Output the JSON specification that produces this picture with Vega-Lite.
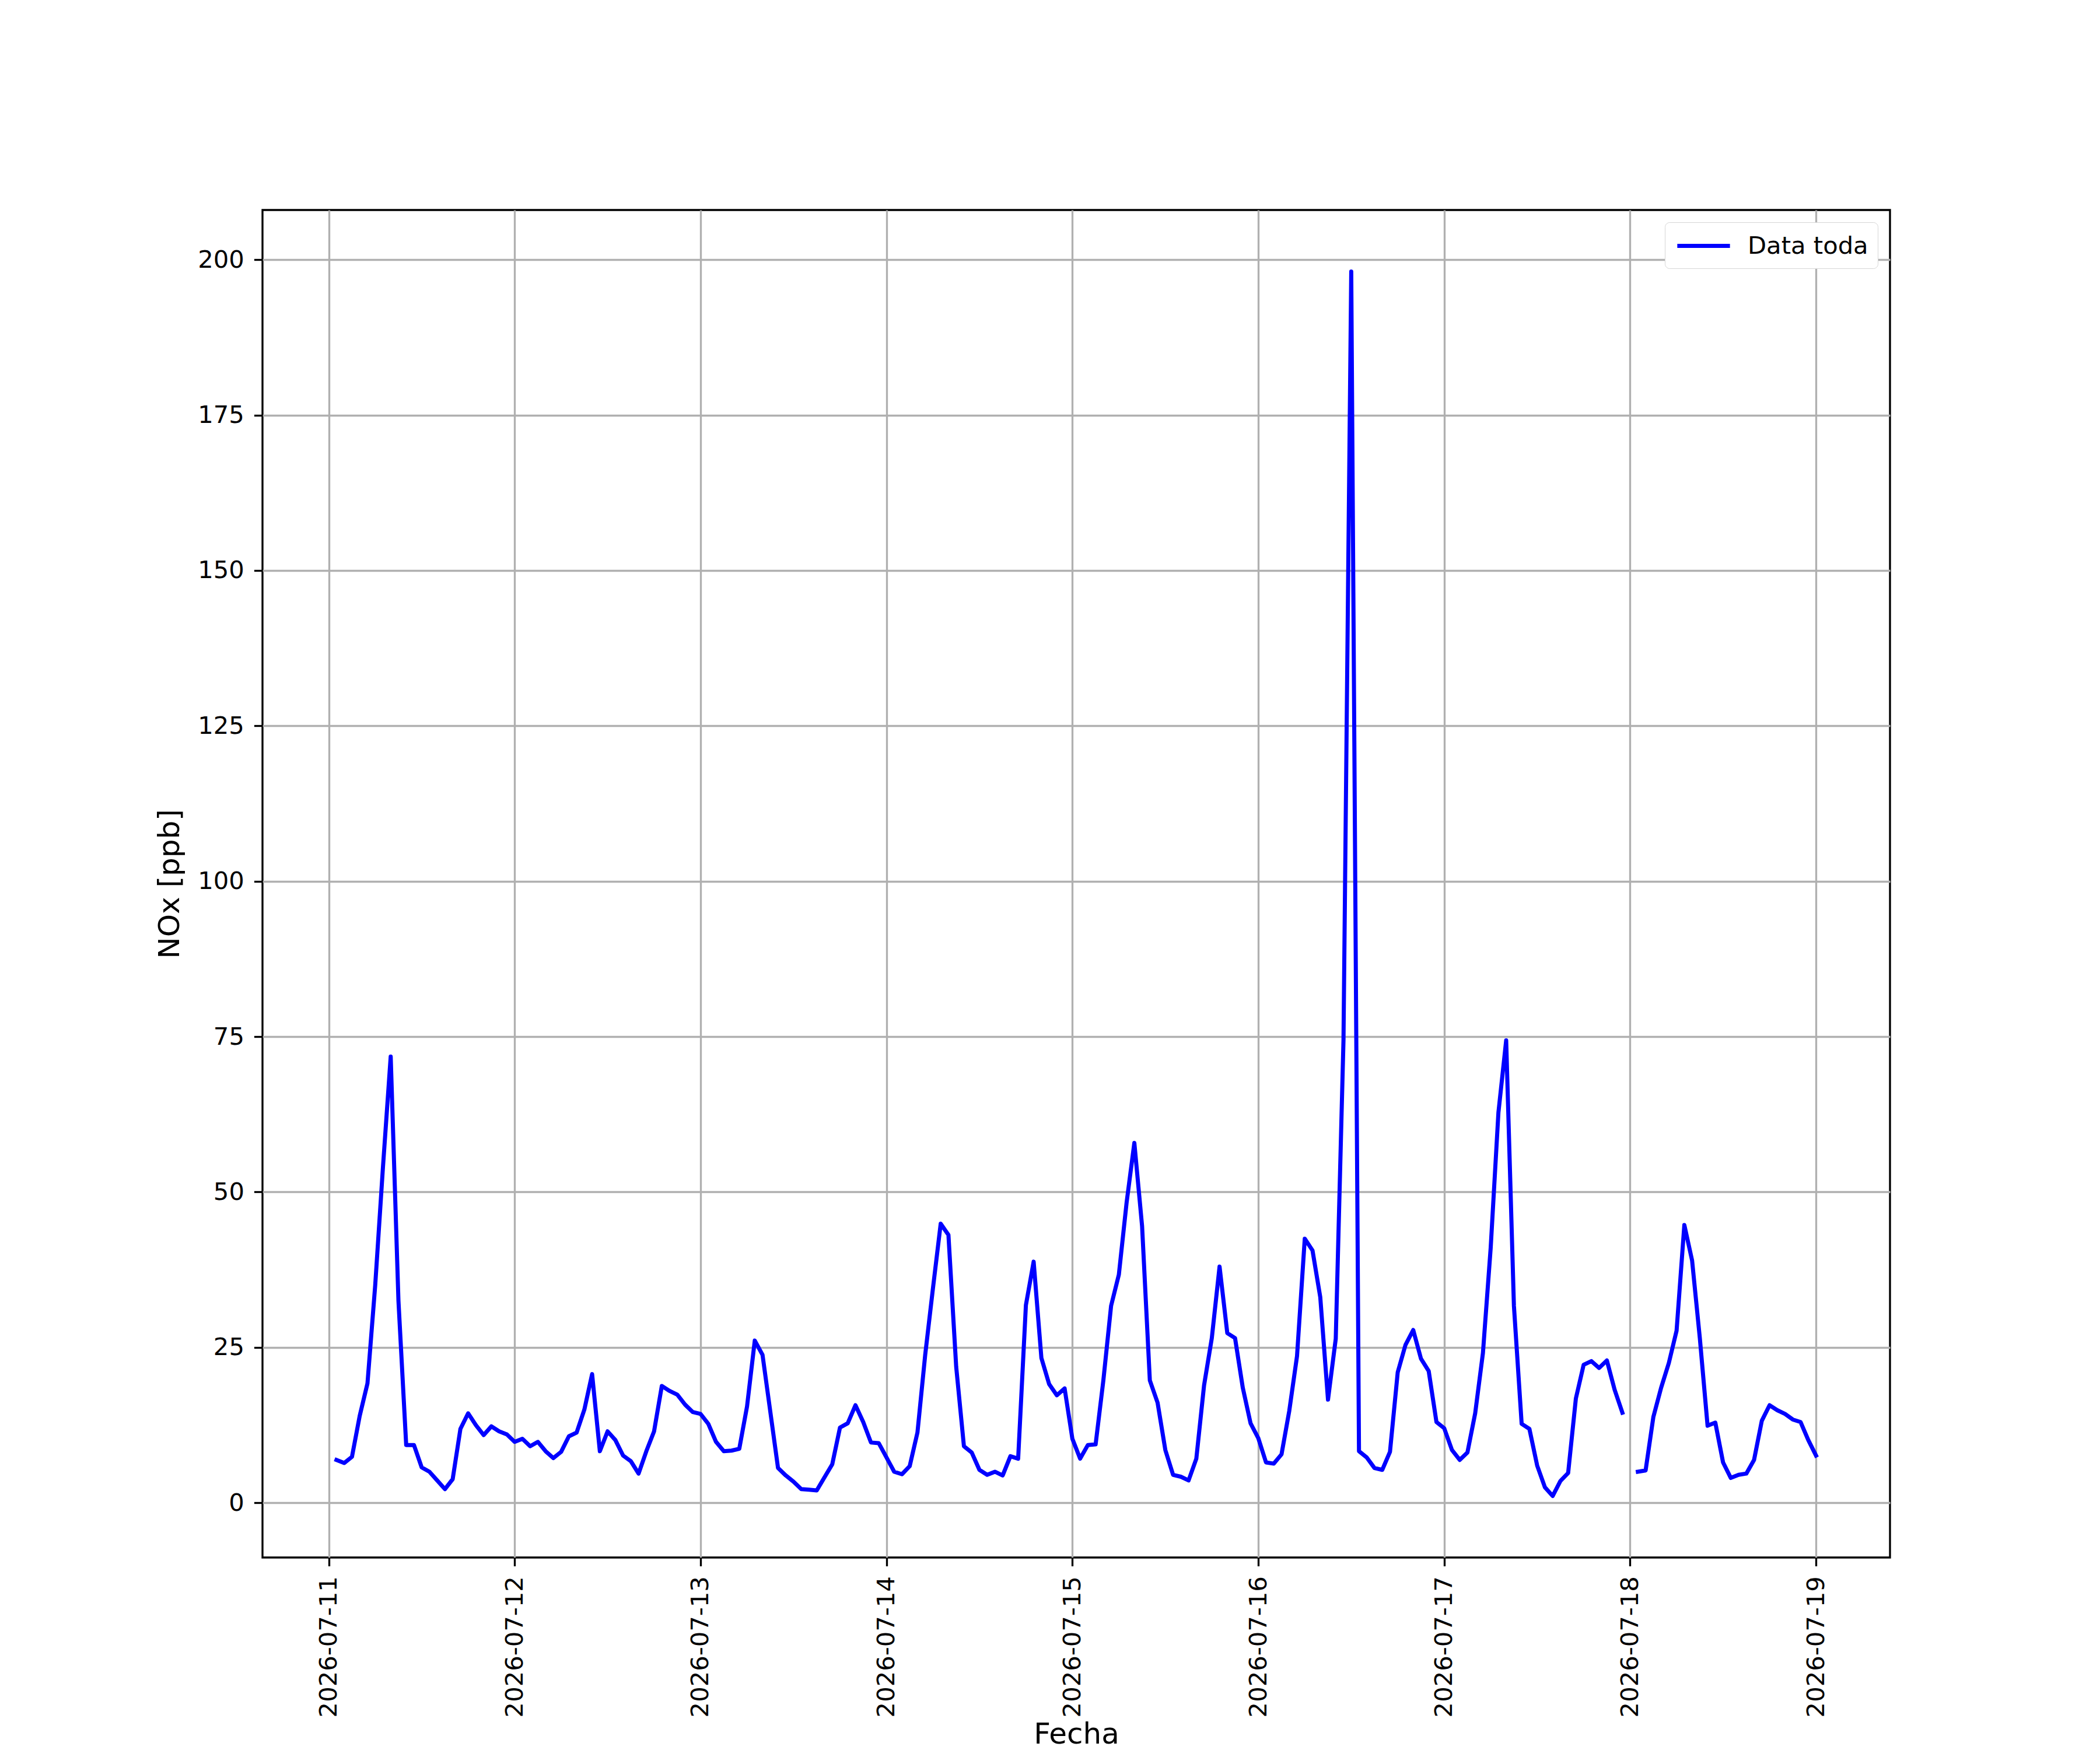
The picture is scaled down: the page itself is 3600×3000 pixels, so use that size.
{
  "$schema": "https://vega.github.io/schema/vega-lite/v6.json",
  "width": 2790,
  "height": 2310,
  "autosize": {"type": "none"},
  "padding": {"left": 450, "top": 360, "right": 360, "bottom": 330},
  "background": "white",
  "config": {
    "font": "DejaVu Sans",
    "view": {"stroke": "black", "strokeWidth": 3.33},
    "axis": {
      "domain": false,
      "grid": true,
      "gridColor": "#b0b0b0",
      "gridWidth": 3.33,
      "ticks": true,
      "tickColor": "black",
      "tickWidth": 3.33,
      "tickSize": 14.6,
      "labelFont": "DejaVu Sans",
      "labelFontSize": 41.7,
      "labelColor": "black",
      "labelLimit": 0,
      "labelPadding": 17,
      "titleFont": "DejaVu Sans",
      "titleFontSize": 50,
      "titleFontWeight": "normal",
      "titleColor": "black"
    },
    "legend": {
      "labelFont": "DejaVu Sans",
      "labelFontSize": 41.7,
      "labelColor": "black",
      "labelLimit": 0,
      "fillColor": "white",
      "strokeColor": "#d6d6d6",
      "cornerRadius": 8,
      "padding": 16
    }
  },
  "data": {
    "values": [
      {"t": "2026-07-11T01:00:00Z", "v": 6.9},
      {"t": "2026-07-11T02:00:00Z", "v": 6.4},
      {"t": "2026-07-11T03:00:00Z", "v": 7.4},
      {"t": "2026-07-11T04:00:00Z", "v": 14.0},
      {"t": "2026-07-11T05:00:00Z", "v": 19.2},
      {"t": "2026-07-11T06:00:00Z", "v": 35.0},
      {"t": "2026-07-11T07:00:00Z", "v": 54.0},
      {"t": "2026-07-11T08:00:00Z", "v": 71.8},
      {"t": "2026-07-11T09:00:00Z", "v": 32.5},
      {"t": "2026-07-11T10:00:00Z", "v": 9.3},
      {"t": "2026-07-11T11:00:00Z", "v": 9.3},
      {"t": "2026-07-11T12:00:00Z", "v": 5.7},
      {"t": "2026-07-11T13:00:00Z", "v": 5.0},
      {"t": "2026-07-11T14:00:00Z", "v": 3.6},
      {"t": "2026-07-11T15:00:00Z", "v": 2.2},
      {"t": "2026-07-11T16:00:00Z", "v": 3.8},
      {"t": "2026-07-11T17:00:00Z", "v": 11.9},
      {"t": "2026-07-11T18:00:00Z", "v": 14.4},
      {"t": "2026-07-11T19:00:00Z", "v": 12.5},
      {"t": "2026-07-11T20:00:00Z", "v": 10.9},
      {"t": "2026-07-11T21:00:00Z", "v": 12.3},
      {"t": "2026-07-11T22:00:00Z", "v": 11.5},
      {"t": "2026-07-11T23:00:00Z", "v": 11.0},
      {"t": "2026-07-12T00:00:00Z", "v": 9.8},
      {"t": "2026-07-12T01:00:00Z", "v": 10.3},
      {"t": "2026-07-12T02:00:00Z", "v": 9.1},
      {"t": "2026-07-12T03:00:00Z", "v": 9.8},
      {"t": "2026-07-12T04:00:00Z", "v": 8.3},
      {"t": "2026-07-12T05:00:00Z", "v": 7.2},
      {"t": "2026-07-12T06:00:00Z", "v": 8.2},
      {"t": "2026-07-12T07:00:00Z", "v": 10.7},
      {"t": "2026-07-12T08:00:00Z", "v": 11.3},
      {"t": "2026-07-12T09:00:00Z", "v": 15.0},
      {"t": "2026-07-12T10:00:00Z", "v": 20.7},
      {"t": "2026-07-12T11:00:00Z", "v": 8.3},
      {"t": "2026-07-12T12:00:00Z", "v": 11.5},
      {"t": "2026-07-12T13:00:00Z", "v": 10.1},
      {"t": "2026-07-12T14:00:00Z", "v": 7.6},
      {"t": "2026-07-12T15:00:00Z", "v": 6.7},
      {"t": "2026-07-12T16:00:00Z", "v": 4.7},
      {"t": "2026-07-12T17:00:00Z", "v": 8.3},
      {"t": "2026-07-12T18:00:00Z", "v": 11.5},
      {"t": "2026-07-12T19:00:00Z", "v": 18.8},
      {"t": "2026-07-12T20:00:00Z", "v": 18.0},
      {"t": "2026-07-12T21:00:00Z", "v": 17.4},
      {"t": "2026-07-12T22:00:00Z", "v": 15.8},
      {"t": "2026-07-12T23:00:00Z", "v": 14.6},
      {"t": "2026-07-13T00:00:00Z", "v": 14.3},
      {"t": "2026-07-13T01:00:00Z", "v": 12.7},
      {"t": "2026-07-13T02:00:00Z", "v": 9.8},
      {"t": "2026-07-13T03:00:00Z", "v": 8.3},
      {"t": "2026-07-13T04:00:00Z", "v": 8.4},
      {"t": "2026-07-13T05:00:00Z", "v": 8.7},
      {"t": "2026-07-13T06:00:00Z", "v": 15.5},
      {"t": "2026-07-13T07:00:00Z", "v": 26.1},
      {"t": "2026-07-13T08:00:00Z", "v": 23.8},
      {"t": "2026-07-13T09:00:00Z", "v": 14.7},
      {"t": "2026-07-13T10:00:00Z", "v": 5.6},
      {"t": "2026-07-13T11:00:00Z", "v": 4.4},
      {"t": "2026-07-13T12:00:00Z", "v": 3.4},
      {"t": "2026-07-13T13:00:00Z", "v": 2.2},
      {"t": "2026-07-13T14:00:00Z", "v": 2.1},
      {"t": "2026-07-13T15:00:00Z", "v": 2.0},
      {"t": "2026-07-13T16:00:00Z", "v": 4.1},
      {"t": "2026-07-13T17:00:00Z", "v": 6.2},
      {"t": "2026-07-13T18:00:00Z", "v": 12.1},
      {"t": "2026-07-13T19:00:00Z", "v": 12.8},
      {"t": "2026-07-13T20:00:00Z", "v": 15.7},
      {"t": "2026-07-13T21:00:00Z", "v": 13.0},
      {"t": "2026-07-13T22:00:00Z", "v": 9.7},
      {"t": "2026-07-13T23:00:00Z", "v": 9.6},
      {"t": "2026-07-14T00:00:00Z", "v": 7.3},
      {"t": "2026-07-14T01:00:00Z", "v": 5.0},
      {"t": "2026-07-14T02:00:00Z", "v": 4.6},
      {"t": "2026-07-14T03:00:00Z", "v": 5.9},
      {"t": "2026-07-14T04:00:00Z", "v": 11.3},
      {"t": "2026-07-14T05:00:00Z", "v": 23.8},
      {"t": "2026-07-14T06:00:00Z", "v": 34.5},
      {"t": "2026-07-14T07:00:00Z", "v": 44.9},
      {"t": "2026-07-14T08:00:00Z", "v": 43.1},
      {"t": "2026-07-14T09:00:00Z", "v": 21.9},
      {"t": "2026-07-14T10:00:00Z", "v": 9.1},
      {"t": "2026-07-14T11:00:00Z", "v": 8.1},
      {"t": "2026-07-14T12:00:00Z", "v": 5.3},
      {"t": "2026-07-14T13:00:00Z", "v": 4.5},
      {"t": "2026-07-14T14:00:00Z", "v": 5.0},
      {"t": "2026-07-14T15:00:00Z", "v": 4.4},
      {"t": "2026-07-14T16:00:00Z", "v": 7.5},
      {"t": "2026-07-14T17:00:00Z", "v": 7.1},
      {"t": "2026-07-14T18:00:00Z", "v": 31.8},
      {"t": "2026-07-14T19:00:00Z", "v": 38.8},
      {"t": "2026-07-14T20:00:00Z", "v": 23.3},
      {"t": "2026-07-14T21:00:00Z", "v": 19.1},
      {"t": "2026-07-14T22:00:00Z", "v": 17.3},
      {"t": "2026-07-14T23:00:00Z", "v": 18.4},
      {"t": "2026-07-15T00:00:00Z", "v": 10.3},
      {"t": "2026-07-15T01:00:00Z", "v": 7.1},
      {"t": "2026-07-15T02:00:00Z", "v": 9.3},
      {"t": "2026-07-15T03:00:00Z", "v": 9.4},
      {"t": "2026-07-15T04:00:00Z", "v": 19.7},
      {"t": "2026-07-15T05:00:00Z", "v": 31.7},
      {"t": "2026-07-15T06:00:00Z", "v": 36.7},
      {"t": "2026-07-15T07:00:00Z", "v": 48.3},
      {"t": "2026-07-15T08:00:00Z", "v": 57.9},
      {"t": "2026-07-15T09:00:00Z", "v": 44.5},
      {"t": "2026-07-15T10:00:00Z", "v": 19.7},
      {"t": "2026-07-15T11:00:00Z", "v": 16.1},
      {"t": "2026-07-15T12:00:00Z", "v": 8.5},
      {"t": "2026-07-15T13:00:00Z", "v": 4.5},
      {"t": "2026-07-15T14:00:00Z", "v": 4.2},
      {"t": "2026-07-15T15:00:00Z", "v": 3.6},
      {"t": "2026-07-15T16:00:00Z", "v": 7.1},
      {"t": "2026-07-15T17:00:00Z", "v": 18.9},
      {"t": "2026-07-15T18:00:00Z", "v": 26.5},
      {"t": "2026-07-15T19:00:00Z", "v": 38.0},
      {"t": "2026-07-15T20:00:00Z", "v": 27.3},
      {"t": "2026-07-15T21:00:00Z", "v": 26.5},
      {"t": "2026-07-15T22:00:00Z", "v": 18.5},
      {"t": "2026-07-15T23:00:00Z", "v": 12.8},
      {"t": "2026-07-16T00:00:00Z", "v": 10.4},
      {"t": "2026-07-16T01:00:00Z", "v": 6.5},
      {"t": "2026-07-16T02:00:00Z", "v": 6.3},
      {"t": "2026-07-16T03:00:00Z", "v": 7.8},
      {"t": "2026-07-16T04:00:00Z", "v": 14.8},
      {"t": "2026-07-16T05:00:00Z", "v": 23.6},
      {"t": "2026-07-16T06:00:00Z", "v": 42.5},
      {"t": "2026-07-16T07:00:00Z", "v": 40.6},
      {"t": "2026-07-16T08:00:00Z", "v": 33.1},
      {"t": "2026-07-16T09:00:00Z", "v": 16.6},
      {"t": "2026-07-16T10:00:00Z", "v": 26.4},
      {"t": "2026-07-16T11:00:00Z", "v": 74.5},
      {"t": "2026-07-16T12:00:00Z", "v": 198.1},
      {"t": "2026-07-16T13:00:00Z", "v": 8.3},
      {"t": "2026-07-16T14:00:00Z", "v": 7.3},
      {"t": "2026-07-16T15:00:00Z", "v": 5.6},
      {"t": "2026-07-16T16:00:00Z", "v": 5.3},
      {"t": "2026-07-16T17:00:00Z", "v": 8.2},
      {"t": "2026-07-16T18:00:00Z", "v": 21.0},
      {"t": "2026-07-16T19:00:00Z", "v": 25.4},
      {"t": "2026-07-16T20:00:00Z", "v": 27.8},
      {"t": "2026-07-16T21:00:00Z", "v": 23.2},
      {"t": "2026-07-16T22:00:00Z", "v": 21.2},
      {"t": "2026-07-16T23:00:00Z", "v": 13.0},
      {"t": "2026-07-17T00:00:00Z", "v": 12.0},
      {"t": "2026-07-17T01:00:00Z", "v": 8.5},
      {"t": "2026-07-17T02:00:00Z", "v": 6.9},
      {"t": "2026-07-17T03:00:00Z", "v": 8.1},
      {"t": "2026-07-17T04:00:00Z", "v": 14.4},
      {"t": "2026-07-17T05:00:00Z", "v": 24.1},
      {"t": "2026-07-17T06:00:00Z", "v": 41.0},
      {"t": "2026-07-17T07:00:00Z", "v": 62.8},
      {"t": "2026-07-17T08:00:00Z", "v": 74.4},
      {"t": "2026-07-17T09:00:00Z", "v": 31.7},
      {"t": "2026-07-17T10:00:00Z", "v": 12.7},
      {"t": "2026-07-17T11:00:00Z", "v": 11.9},
      {"t": "2026-07-17T12:00:00Z", "v": 6.0},
      {"t": "2026-07-17T13:00:00Z", "v": 2.5},
      {"t": "2026-07-17T14:00:00Z", "v": 1.1},
      {"t": "2026-07-17T15:00:00Z", "v": 3.5},
      {"t": "2026-07-17T16:00:00Z", "v": 4.8},
      {"t": "2026-07-17T17:00:00Z", "v": 16.8},
      {"t": "2026-07-17T18:00:00Z", "v": 22.2},
      {"t": "2026-07-17T19:00:00Z", "v": 22.8},
      {"t": "2026-07-17T20:00:00Z", "v": 21.7},
      {"t": "2026-07-17T21:00:00Z", "v": 22.9},
      {"t": "2026-07-17T22:00:00Z", "v": 18.2},
      {"t": "2026-07-17T23:00:00Z", "v": 14.5},
      {"t": "2026-07-18T00:00:00Z", "v": null},
      {"t": "2026-07-18T01:00:00Z", "v": 5.0},
      {"t": "2026-07-18T02:00:00Z", "v": 5.2},
      {"t": "2026-07-18T03:00:00Z", "v": 13.8},
      {"t": "2026-07-18T04:00:00Z", "v": 18.5},
      {"t": "2026-07-18T05:00:00Z", "v": 22.5},
      {"t": "2026-07-18T06:00:00Z", "v": 27.7},
      {"t": "2026-07-18T07:00:00Z", "v": 44.7},
      {"t": "2026-07-18T08:00:00Z", "v": 39.0},
      {"t": "2026-07-18T09:00:00Z", "v": 26.5},
      {"t": "2026-07-18T10:00:00Z", "v": 12.4},
      {"t": "2026-07-18T11:00:00Z", "v": 12.9},
      {"t": "2026-07-18T12:00:00Z", "v": 6.5},
      {"t": "2026-07-18T13:00:00Z", "v": 4.0},
      {"t": "2026-07-18T14:00:00Z", "v": 4.5},
      {"t": "2026-07-18T15:00:00Z", "v": 4.7},
      {"t": "2026-07-18T16:00:00Z", "v": 6.9},
      {"t": "2026-07-18T17:00:00Z", "v": 13.2},
      {"t": "2026-07-18T18:00:00Z", "v": 15.7},
      {"t": "2026-07-18T19:00:00Z", "v": 14.9},
      {"t": "2026-07-18T20:00:00Z", "v": 14.3},
      {"t": "2026-07-18T21:00:00Z", "v": 13.4},
      {"t": "2026-07-18T22:00:00Z", "v": 13.0},
      {"t": "2026-07-18T23:00:00Z", "v": 10.1},
      {"t": "2026-07-19T00:00:00Z", "v": 7.6}
    ]
  },
  "mark": {
    "type": "line",
    "strokeWidth": 7,
    "strokeJoin": "round",
    "strokeCap": "square",
    "invalid": "break-paths-show-domains"
  },
  "encoding": {
    "x": {
      "field": "t",
      "type": "temporal",
      "scale": {
        "type": "utc",
        "domain": [
          {"year": 2026, "month": 7, "date": 10, "hours": 15, "minutes": 27, "utc": true},
          {"year": 2026, "month": 7, "date": 19, "hours": 9, "minutes": 33, "utc": true}
        ]
      },
      "axis": {
        "title": "Fecha",
        "format": "%Y-%m-%d",
        "labelAngle": 270,
        "labelAlign": "right",
        "labelBaseline": "middle",
        "titlePadding": 78,
        "values": [
          {"year": 2026, "month": 7, "date": 11, "utc": true},
          {"year": 2026, "month": 7, "date": 12, "utc": true},
          {"year": 2026, "month": 7, "date": 13, "utc": true},
          {"year": 2026, "month": 7, "date": 14, "utc": true},
          {"year": 2026, "month": 7, "date": 15, "utc": true},
          {"year": 2026, "month": 7, "date": 16, "utc": true},
          {"year": 2026, "month": 7, "date": 17, "utc": true},
          {"year": 2026, "month": 7, "date": 18, "utc": true},
          {"year": 2026, "month": 7, "date": 19, "utc": true}
        ]
      }
    },
    "y": {
      "field": "v",
      "type": "quantitative",
      "scale": {"domain": [-8.8, 208.0], "nice": false, "zero": false},
      "axis": {
        "title": "NOx [ppb]",
        "values": [0, 25, 50, 75, 100, 125, 150, 175, 200],
        "titlePadding": 22
      }
    },
    "color": {
      "datum": "Data toda",
      "scale": {"range": ["#0000ff"]},
      "legend": {
        "title": null,
        "orient": "top-right",
        "offset": 21,
        "symbolType": "M -2.15 0 L 2.15 0",
        "symbolSize": 1764,
        "symbolStrokeWidth": 7,
        "symbolOffset": 26,
        "labelOffset": 51
      }
    }
  }
}
